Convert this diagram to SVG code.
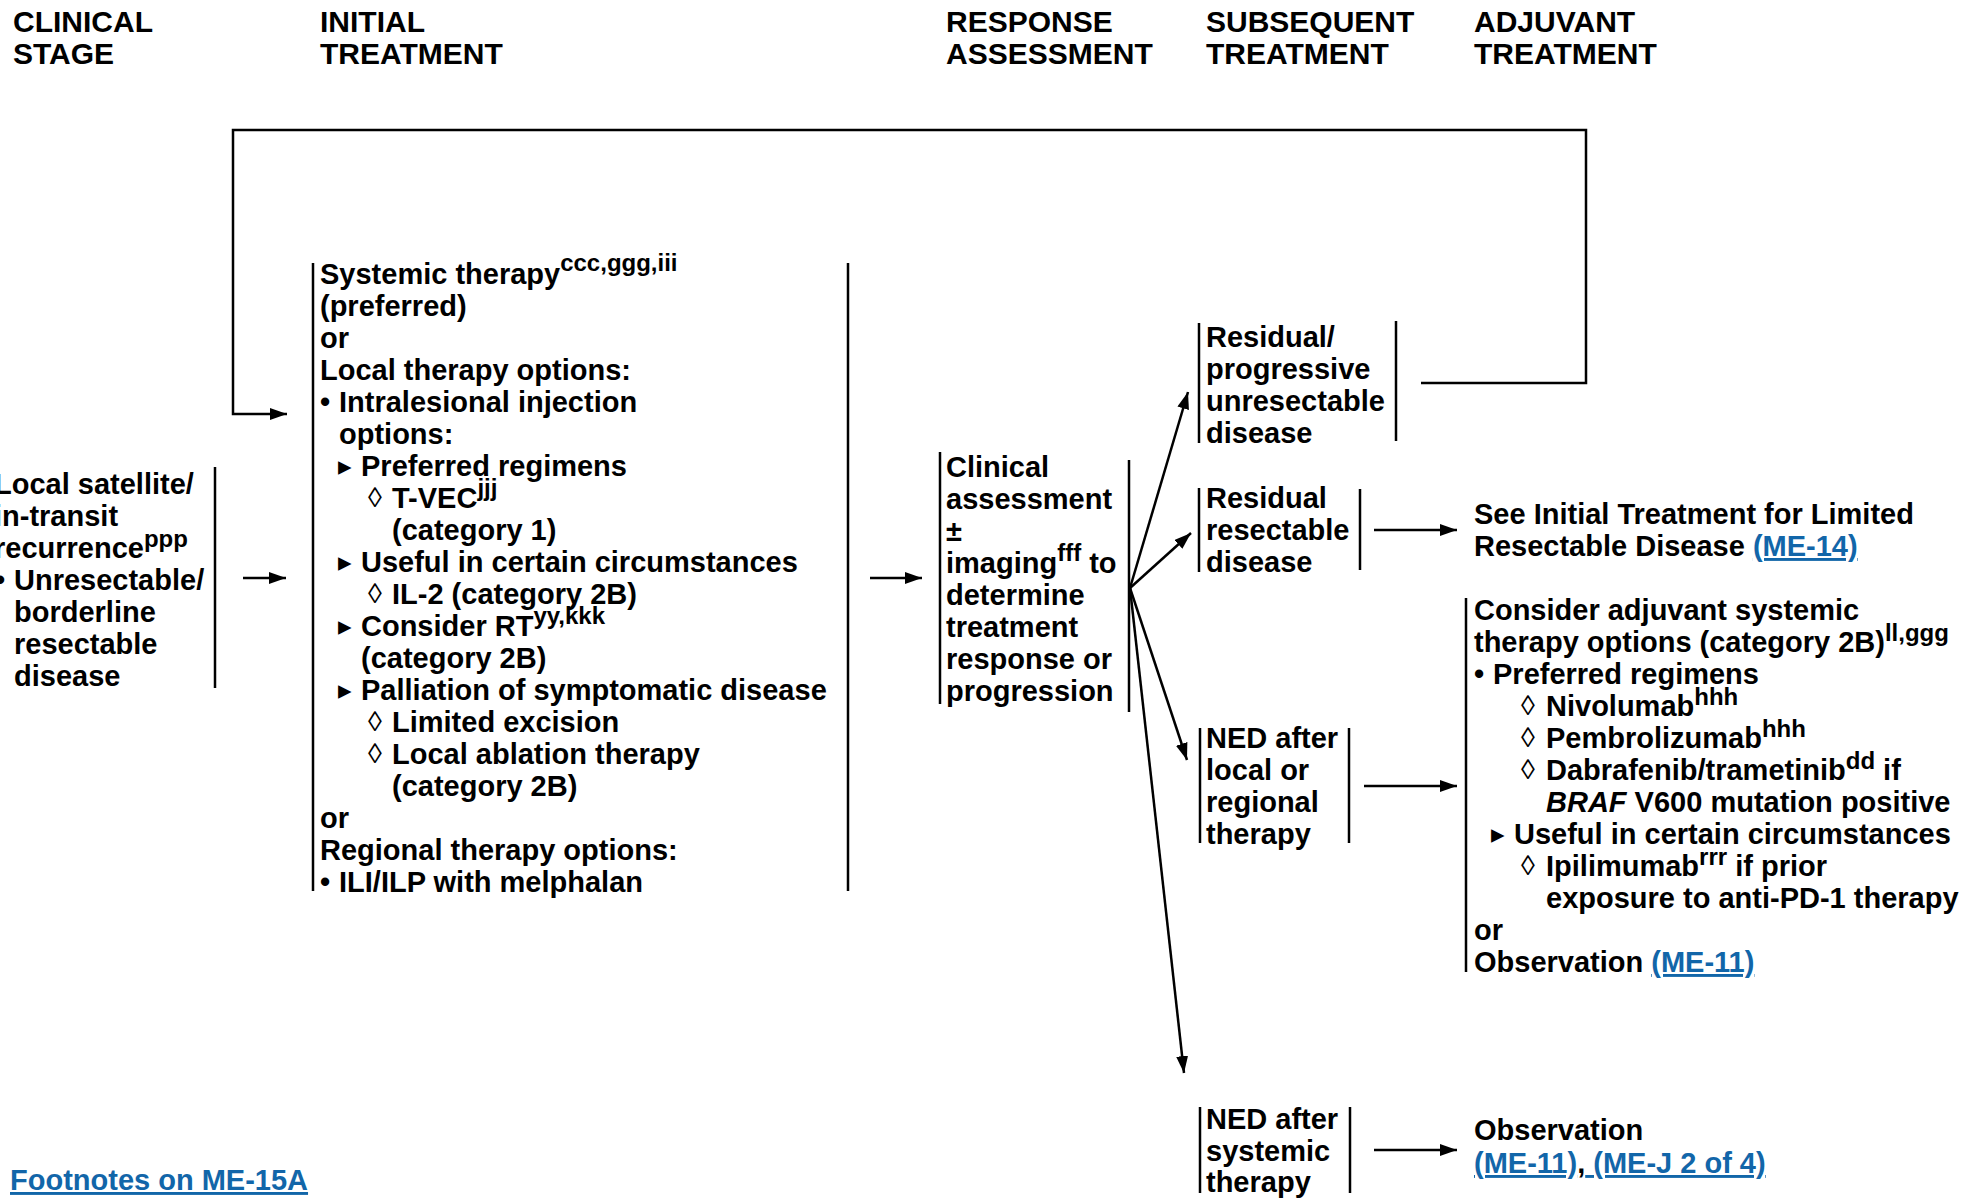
<svg xmlns="http://www.w3.org/2000/svg" width="1963" height="1201" viewBox="0 0 1963 1201">
<style>
.t{font-family:"Liberation Sans",Arial,Helvetica,sans-serif;font-size:29px;font-weight:bold;fill:#000}
.h{font-size:30px}
.s{font-size:24px}
.d{font-weight:normal;font-size:28px;font-family:"Liberation Sans","DejaVu Sans",sans-serif}
.tr{font-family:"DejaVu Sans",sans-serif;font-size:27px;font-weight:normal}
.k{fill:#1266a9;text-decoration:underline}
.i{font-style:italic}
.b{stroke:#000;stroke-width:2.5;fill:none}
.c{stroke:#000;stroke-width:2.5;fill:none}
</style>
<defs>
<marker id="ah" markerUnits="userSpaceOnUse" markerWidth="19" markerHeight="13" refX="17" refY="6" orient="auto">
<path d="M0,0 L17,6 L0,12 z" fill="#000"/>
</marker>
</defs>
<rect width="1963" height="1201" fill="#fff"/>

<g id="headers" class="t h">
<text x="13" y="32">CLINICAL</text><text x="13" y="64">STAGE</text>
<text x="320" y="32">INITIAL</text><text x="320" y="64">TREATMENT</text>
<text x="946" y="32">RESPONSE</text><text x="946" y="64">ASSESSMENT</text>
<text x="1206" y="32">SUBSEQUENT</text><text x="1206" y="64">TREATMENT</text>
<text x="1474" y="32">ADJUVANT</text><text x="1474" y="64">TREATMENT</text>
</g>

<g id="connectors">
<line class="c" x1="243" y1="578" x2="286" y2="578" marker-end="url(#ah)"/>
<polyline class="c" points="1421,383 1586,383 1586,130 233,130 233,414 287,414" marker-end="url(#ah)"/>
<line class="c" x1="870" y1="578" x2="922" y2="578" marker-end="url(#ah)"/>
<line class="c" x1="1130" y1="588" x2="1188" y2="392" marker-end="url(#ah)"/>
<line class="c" x1="1130" y1="588" x2="1191" y2="533" marker-end="url(#ah)"/>
<line class="c" x1="1130" y1="588" x2="1187" y2="760" marker-end="url(#ah)"/>
<line class="c" x1="1130" y1="588" x2="1184" y2="1073" marker-end="url(#ah)"/>
<line class="c" x1="1374" y1="530" x2="1457" y2="530" marker-end="url(#ah)"/>
<line class="c" x1="1364" y1="786" x2="1457" y2="786" marker-end="url(#ah)"/>
<line class="c" x1="1374" y1="1150" x2="1457" y2="1150" marker-end="url(#ah)"/>
</g>

<g id="stage">
<line class="b" x1="215" y1="467" x2="215" y2="688"/>
<text class="t">
<tspan x="-6" y="494">Local satellite/</tspan>
<tspan x="-6" y="526">in-transit</tspan>
<tspan x="-6" y="558">recurrence</tspan><tspan class="s" dy="-11">ppp</tspan>
<tspan x="-5" y="590">•</tspan><tspan x="14" y="590">Unresectable/</tspan>
<tspan x="14" y="622">borderline</tspan>
<tspan x="14" y="654">resectable</tspan>
<tspan x="14" y="686">disease</tspan>
</text>
</g>

<g id="initial">
<line class="b" x1="313" y1="263" x2="313" y2="891"/>
<line class="b" x1="848" y1="263" x2="848" y2="891"/>
<text class="t">
<tspan x="320" y="284">Systemic therapy</tspan><tspan class="s" dy="-13">ccc,ggg,iii</tspan>
<tspan x="320" y="316">(preferred)</tspan>
<tspan x="320" y="348">or</tspan>
<tspan x="320" y="380">Local therapy options:</tspan>
<tspan x="320" y="412">•</tspan><tspan x="339" y="412">Intralesional injection</tspan>
<tspan x="339" y="444">options:</tspan>
<tspan class="tr" x="338" y="475">▸</tspan><tspan x="361" y="476">Preferred regimens</tspan>
<tspan class="d" x="368" y="507">◊</tspan><tspan x="392" y="508">T-VEC</tspan><tspan class="s" dy="-12">jjj</tspan>
<tspan x="392" y="540">(category 1)</tspan>
<tspan class="tr" x="338" y="571">▸</tspan><tspan x="361" y="572">Useful in certain circumstances</tspan>
<tspan class="d" x="368" y="603">◊</tspan><tspan x="392" y="604">IL-2 (category 2B)</tspan>
<tspan class="tr" x="338" y="635">▸</tspan><tspan x="361" y="636">Consider RT</tspan><tspan class="s" dy="-12">yy,kkk</tspan>
<tspan x="361" y="668">(category 2B)</tspan>
<tspan class="tr" x="338" y="699">▸</tspan><tspan x="361" y="700">Palliation of symptomatic disease</tspan>
<tspan class="d" x="368" y="731">◊</tspan><tspan x="392" y="732">Limited excision</tspan>
<tspan class="d" x="368" y="763">◊</tspan><tspan x="392" y="764">Local ablation therapy</tspan>
<tspan x="392" y="796">(category 2B)</tspan>
<tspan x="320" y="828">or</tspan>
<tspan x="320" y="860">Regional therapy options:</tspan>
<tspan x="320" y="892">•</tspan><tspan x="339" y="892">ILI/ILP with melphalan</tspan>
</text>
</g>

<g id="assessment">
<line class="b" x1="940" y1="452" x2="940" y2="704"/>
<line class="b" x1="1129" y1="460" x2="1129" y2="712"/>
<text class="t">
<tspan x="946" y="477">Clinical</tspan>
<tspan x="946" y="509">assessment</tspan>
<tspan x="946" y="541">±</tspan>
<tspan x="946" y="573">imaging</tspan><tspan class="s" dy="-12">fff</tspan><tspan dy="12"> to</tspan>
<tspan x="946" y="605">determine</tspan>
<tspan x="946" y="637">treatment</tspan>
<tspan x="946" y="669">response or</tspan>
<tspan x="946" y="701">progression</tspan>
</text>
</g>

<g id="residual-progressive">
<line class="b" x1="1199" y1="323" x2="1199" y2="443"/>
<line class="b" x1="1396" y1="321" x2="1396" y2="441"/>
<text class="t">
<tspan x="1206" y="347">Residual/</tspan>
<tspan x="1206" y="379">progressive</tspan>
<tspan x="1206" y="411">unresectable</tspan>
<tspan x="1206" y="443">disease</tspan>
</text>
</g>

<g id="residual-resectable">
<line class="b" x1="1199" y1="488" x2="1199" y2="572"/>
<line class="b" x1="1360" y1="489" x2="1360" y2="570"/>
<text class="t">
<tspan x="1206" y="508">Residual</tspan>
<tspan x="1206" y="540">resectable</tspan>
<tspan x="1206" y="572">disease</tspan>
</text>
</g>

<g id="ned-local">
<line class="b" x1="1200" y1="728" x2="1200" y2="843"/>
<line class="b" x1="1349" y1="728" x2="1349" y2="843"/>
<text class="t">
<tspan x="1206" y="748">NED after</tspan>
<tspan x="1206" y="780">local or</tspan>
<tspan x="1206" y="812">regional</tspan>
<tspan x="1206" y="844">therapy</tspan>
</text>
</g>

<g id="ned-systemic">
<line class="b" x1="1200" y1="1107" x2="1200" y2="1193"/>
<line class="b" x1="1350" y1="1107" x2="1350" y2="1193"/>
<text class="t">
<tspan x="1206" y="1129">NED after</tspan>
<tspan x="1206" y="1161">systemic</tspan>
<tspan x="1206" y="1192">therapy</tspan>
</text>
</g>

<g id="see-initial">
<text class="t">
<tspan x="1474" y="524">See Initial Treatment for Limited</tspan>
<tspan x="1474" y="556">Resectable Disease </tspan><tspan class="k">(ME-14)</tspan>
</text>
</g>

<g id="adjuvant">
<line class="b" x1="1466" y1="598" x2="1466" y2="972"/>
<text class="t">
<tspan x="1474" y="620">Consider adjuvant systemic</tspan>
<tspan x="1474" y="652">therapy options (category 2B)</tspan><tspan class="s" dy="-11">ll,ggg</tspan>
<tspan x="1474" y="684">•</tspan><tspan x="1493" y="684">Preferred regimens</tspan>
<tspan class="d" x="1521" y="715">◊</tspan><tspan x="1546" y="716">Nivolumab</tspan><tspan class="s" dy="-11">hhh</tspan>
<tspan class="d" x="1521" y="747">◊</tspan><tspan x="1546" y="748">Pembrolizumab</tspan><tspan class="s" dy="-11">hhh</tspan>
<tspan class="d" x="1521" y="779">◊</tspan><tspan x="1546" y="780">Dabrafenib/trametinib</tspan><tspan class="s" dy="-11">dd</tspan><tspan dy="11"> if</tspan>
<tspan class="i" x="1546" y="812">BRAF</tspan><tspan> V600 mutation positive</tspan>
<tspan class="tr" x="1491" y="843">▸</tspan><tspan x="1514" y="844">Useful in certain circumstances</tspan>
<tspan class="d" x="1521" y="875">◊</tspan><tspan x="1546" y="876">Ipilimumab</tspan><tspan class="s" dy="-11">rrr</tspan><tspan dy="11"> if prior</tspan>
<tspan x="1546" y="908">exposure to anti-PD-1 therapy</tspan>
<tspan x="1474" y="940">or</tspan>
<tspan x="1474" y="972">Observation </tspan><tspan class="k">(ME-11)</tspan>
</text>
</g>

<g id="observation">
<text class="t">
<tspan x="1474" y="1140">Observation</tspan>
<tspan x="1474" y="1173" class="k">(ME-11)</tspan><tspan>,</tspan><tspan class="k"> (ME-J 2 of 4)</tspan>
</text>
</g>

<g id="footnote">
<text class="t k" x="10" y="1190">Footnotes on ME-15A</text>
</g>
</svg>
